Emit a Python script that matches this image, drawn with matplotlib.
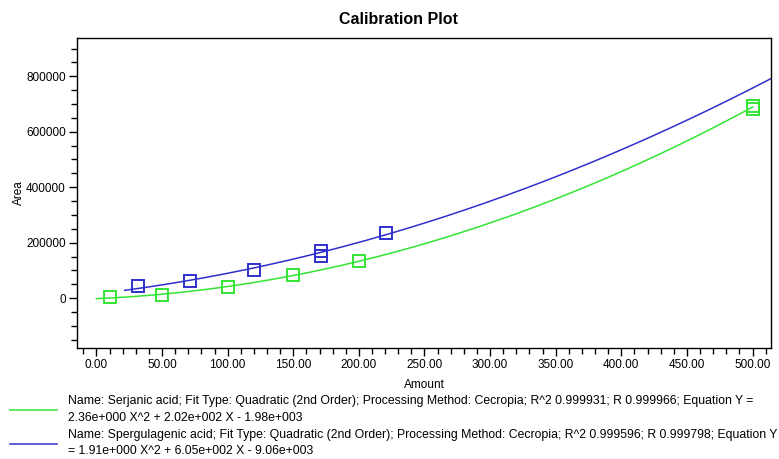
import numpy as np
import matplotlib
matplotlib.use("Agg")
import matplotlib.pyplot as plt
from matplotlib.lines import Line2D

plt.rcParams['font.family'] = ['Liberation Sans', 'DejaVu Sans']

# Serjanic acid (green)
serjanic_x = [10, 50, 100, 150, 200, 500, 500]
serjanic_y = [3000, 12600, 40300, 82000, 135000, 692000, 682000]
# Spergulagenic acid (blue)
spergu_x = [32, 71, 120, 171, 171, 221]
spergu_y = [42000, 62000, 102000, 170000, 152000, 233000]

# fitted curves as drawn (a*x^2 + b*x + c) and their Amount ranges
serjanic_fit = [2.36, 202.0, -1980.0]
spergu_fit = [1.85, 560.0, 15000.0]
serjanic_range = [0, 500]
spergu_range = [21.6, 530]

legend_lines = [
    "Name: Serjanic acid; Fit Type: Quadratic (2nd Order); Processing Method: Cecropia; R^2 0.999931; R 0.999966; Equation Y =",
    "2.36e+000 X^2 + 2.02e+002 X - 1.98e+003",
    "Name: Spergulagenic acid; Fit Type: Quadratic (2nd Order); Processing Method: Cecropia; R^2 0.999596; R 0.999798; Equation Y",
    "= 1.91e+000 X^2 + 6.05e+002 X - 9.06e+003",
]

green = '#33e533'
blue = '#3030cc'

fig = plt.figure(figsize=(7.79, 4.59), dpi=100)
ax = fig.add_axes([0.0988, 0.2418, 0.8909, 0.6754])

xg = np.linspace(serjanic_range[0], serjanic_range[1], 300)
xb = np.linspace(spergu_range[0], spergu_range[1], 300)
ax.plot(xg, np.polyval(serjanic_fit, xg), color=green, lw=1.1)
ax.plot(xb, np.polyval(spergu_fit, xb), color=blue, lw=1.1)

ax.plot(serjanic_x, serjanic_y, 's', ms=9, mfc='none', mec=green, mew=1.4)
ax.plot(spergu_x, spergu_y, 's', ms=9, mfc='none', mec=blue, mew=1.4)

ax.set_xlim(-14.8, 514)
ax.set_ylim(-180000, 938000)
ax.set_xticks(np.arange(0, 501, 50))
ax.set_xticks(np.arange(-10, 511, 10), minor=True)
ax.set_xticklabels(['%.2f' % v for v in np.arange(0, 501, 50)])
ax.set_yticks(np.arange(0, 800001, 200000))
ax.set_yticks(np.arange(-150000, 900001, 50000), minor=True)
ax.set_yticklabels(['%d' % v for v in np.arange(0, 800001, 200000)])
ax.tick_params(which='major', length=6, width=1, labelsize=8.5, pad=2)
ax.tick_params(which='minor', length=4, width=1)
for s in ax.spines.values():
    s.set_linewidth(1)

ax.set_xlabel('Amount', fontsize=8.5, labelpad=6)
ax.set_ylabel('Area', fontsize=8.5, labelpad=1)
fig.text(398 / 779, 1 - 20 / 459, 'Calibration Plot', ha='center', va='center',
         fontsize=11.5, fontweight='bold')

# legend below the chart
for i, col in enumerate([green, blue]):
    fig.add_artist(Line2D([10 / 779, 57 / 779], [1 - (410 + i * 34) / 459] * 2,
                          color=col, lw=1.1))
for i, txt in enumerate(legend_lines):
    fig.text(68 / 779, 1 - (401 + i * 16.8) / 459, txt, ha='left', va='center',
             fontsize=8.8)

fig.savefig('out.png', dpi=100)
